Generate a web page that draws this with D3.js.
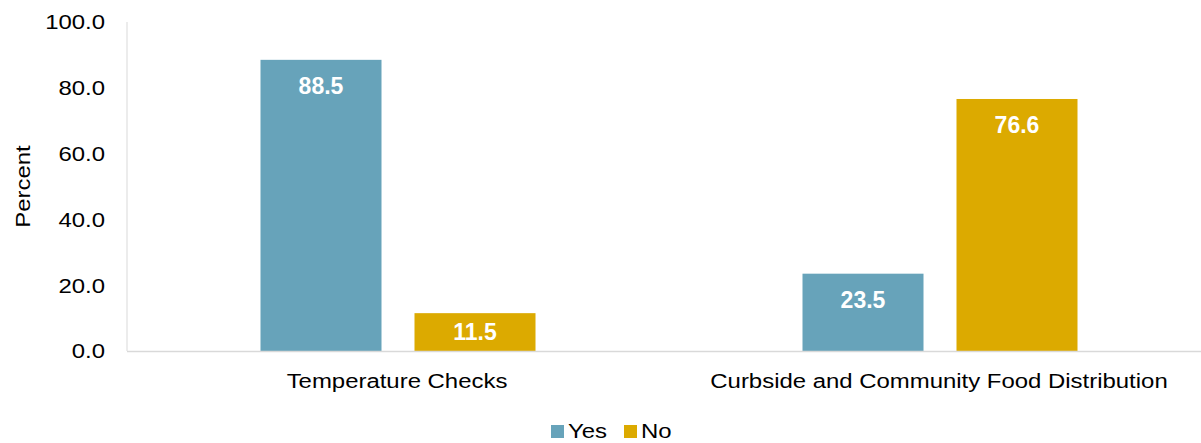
<!DOCTYPE html>
<html>
<head>
<meta charset="utf-8">
<script src="https://cdn.jsdelivr.net/npm/d3@7"></script>
<style>
  body { margin: 0; background: #fff; }
  text { font-family: "Liberation Sans", Arial, sans-serif; }
</style>
</head>
<body>
<div id="chart"></div>
<script>
var categories = ["Temperature Checks", "Curbside and Community Food Distribution"];
var series = ["Yes", "No"];
var yesValues = [88.5, 23.5];
var noValues = [11.5, 76.6];
var yTicks = [0, 20, 40, 60, 80, 100];
var colors = { Yes: "#67A3BA", No: "#DCAA00" };

var w = 1201, h = 443;
var plotLeft = 127, plotRight = 1211, plotTop = 22, plotBottom = 351;
var sx = 1.14; // text in the reference is slightly wide

var svg = d3.select("#chart").append("svg")
    .attr("width", w)
    .attr("height", h);

var x0 = d3.scaleBand().domain(categories).range([plotLeft, plotRight]);
var groupW = 275;
var x1 = d3.scaleBand().domain(series).range([0, groupW]).paddingInner(0.2143);
var y = d3.scaleLinear().domain([0, 100]).range([plotBottom, plotTop]);

function place(px, py) {
    return "translate(" + px + "," + py + ") scale(" + sx + ",1)";
}

// axes
svg.append("line")
    .attr("x1", plotLeft).attr("x2", plotLeft)
    .attr("y1", y(100)).attr("y2", y(0))
    .attr("stroke", "#d9d9d9").attr("stroke-width", 1);

svg.selectAll(".ytick")
    .data(yTicks)
    .enter()
    .append("text")
    .attr("class", "ytick")
    .attr("transform", function (d) { return place(105, y(d)); })
    .attr("dy", "0.35em")
    .attr("text-anchor", "end")
    .attr("font-size", 21)
    .attr("fill", "#000")
    .text(function (d) { return d.toFixed(1); });

svg.append("text")
    .attr("transform", "translate(30," + ((plotTop + plotBottom) / 2) + ") rotate(-90) scale(" + sx + ",1)")
    .attr("text-anchor", "middle")
    .attr("font-size", 21)
    .attr("fill", "#000")
    .text("Percent");

var rows = categories.map(function (c, i) {
    return { cat: c, vals: [{ s: "Yes", v: yesValues[i] }, { s: "No", v: noValues[i] }] };
});

var groups = svg.selectAll(".grp")
    .data(rows)
    .enter()
    .append("g")
    .attr("transform", function (d) {
        return "translate(" + (x0(d.cat) + (x0.bandwidth() - groupW) / 2) + ",0)";
    });

groups.selectAll("rect")
    .data(function (d) { return d.vals; })
    .enter()
    .append("rect")
    .attr("x", function (d) { return x1(d.s); })
    .attr("y", function (d) { return y(d.v); })
    .attr("width", x1.bandwidth())
    .attr("height", function (d) { return y(0) - y(d.v); })
    .attr("fill", function (d) { return colors[d.s]; });

groups.selectAll(".lbl")
    .data(function (d) { return d.vals; })
    .enter()
    .append("text")
    .attr("class", "lbl")
    .attr("x", function (d) { return x1(d.s) + x1.bandwidth() / 2; })
    .attr("y", function (d) {
        var t = y(d.v);
        return Math.min(t + 34, (t + y(0)) / 2 + 8);
    })
    .attr("text-anchor", "middle")
    .attr("font-size", 23)
    .attr("font-weight", "bold")
    .attr("fill", "#fff")
    .text(function (d) { return d.v.toFixed(1); });

svg.append("line")
    .attr("x1", plotLeft).attr("x2", plotRight)
    .attr("y1", y(0) + 0.5).attr("y2", y(0) + 0.5)
    .attr("stroke", "#d9d9d9").attr("stroke-width", 1.5);

svg.selectAll(".xlab")
    .data(categories)
    .enter()
    .append("text")
    .attr("class", "xlab")
    .attr("transform", function (d) { return place(x0(d) + x0.bandwidth() / 2 - 1, 388); })
    .attr("text-anchor", "middle")
    .attr("font-size", 21)
    .attr("fill", "#000")
    .text(function (d) { return d; });

// legend
var legendX = [551, 624];
var leg = svg.selectAll(".leg")
    .data(series)
    .enter()
    .append("g")
    .attr("transform", function (d, i) { return "translate(" + legendX[i] + ",425)"; });
leg.append("rect")
    .attr("width", 13).attr("height", 13)
    .attr("fill", function (d) { return colors[d]; });
leg.append("text")
    .attr("transform", place(17, 13))
    .attr("font-size", 21)
    .attr("fill", "#000")
    .text(function (d) { return d; });
</script>
</body>
</html>
